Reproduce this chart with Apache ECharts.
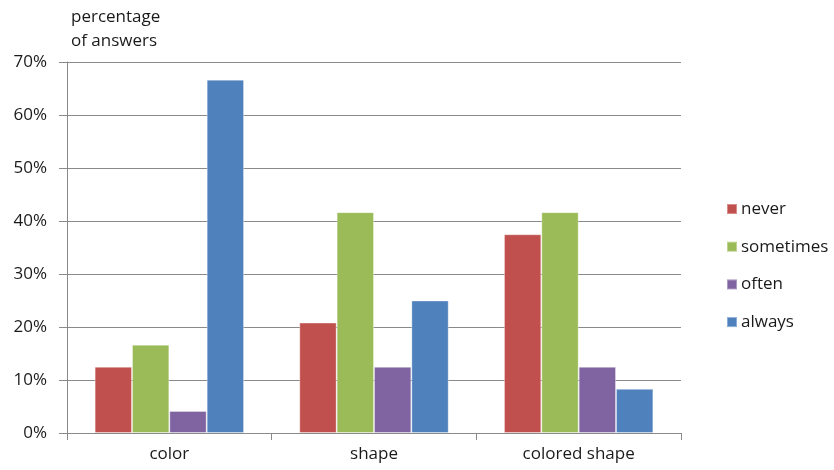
<!DOCTYPE html>
<html>
<head>
<meta charset="utf-8">
<script src="https://cdn.jsdelivr.net/npm/echarts@6/dist/echarts.min.js"></script>
<style>
html,body{margin:0;padding:0;background:#fff;}
#chart{width:834px;height:470px;}
</style>
</head>
<body>
<div id="chart"></div>
<script>
// Share of answers per stimulus type, in percent
const categories = ['color', 'shape', 'colored shape'];
const never = [12.5, 20.83, 37.5];
const sometimes = [16.67, 41.67, 41.67];
const often = [4.17, 12.5, 12.5];
const always = [66.67, 25, 8.33];
const seriesNames = ['never', 'sometimes', 'often', 'always'];
const seriesColors = ['#C0504D', '#9BBB59', '#8064A2', '#4F81BD'];
const yTicks = [0, 10, 20, 30, 40, 50, 60, 70];

const FONT = 'Open Sans';
const TEXT = '#1a1a1a';
const AXIS = '#8a8a8a';
const seriesData = [never, sometimes, often, always];

const chart = echarts.init(document.getElementById('chart'), null, {renderer: 'canvas'});
chart.setOption({
  animation: false,
  backgroundColor: '#fff',
  textStyle: {fontFamily: FONT},
  grid: {left: 67, right: 153, top: 62, bottom: 37, containLabel: false},
  title: {
    text: 'percentage\nof answers',
    left: 66, top: 0,
    textStyle: {fontFamily: FONT, fontSize: 17, fontWeight: 'normal', color: TEXT, lineHeight: 24}
  },
  legend: {
    orient: 'vertical',
    left: 721, top: 194,
    itemWidth: 10, itemHeight: 10,
    itemGap: 17.7,
    icon: 'rect',
    data: seriesNames,
    textStyle: {fontFamily: FONT, fontSize: 17, color: TEXT, lineHeight: 20, padding: [0, 0, 0, -1]}
  },
  xAxis: {
    type: 'category',
    data: categories,
    axisLine: {lineStyle: {color: AXIS, width: 1}},
    axisTick: {show: true, length: 7, lineStyle: {color: AXIS}},
    axisLabel: {fontFamily: FONT, fontSize: 17, color: TEXT, margin: 13}
  },
  yAxis: {
    type: 'value',
    min: yTicks[0], max: yTicks[yTicks.length - 1], interval: 10,
    axisLine: {show: true, lineStyle: {color: AXIS, width: 1}},
    axisTick: {show: true, length: 8, lineStyle: {color: AXIS}},
    axisLabel: {fontFamily: FONT, fontSize: 17, color: TEXT, margin: 20, formatter: v => v + '%'},
    splitLine: {show: true, lineStyle: {color: AXIS, width: 1}}
  },
  series: seriesNames.map((name, i) => ({
    name: name,
    type: 'bar',
    data: seriesData[i],
    barGap: '0%',
    barCategoryGap: '27%',
    itemStyle: {color: seriesColors[i], borderColor: 'rgba(255,255,255,0.35)', borderWidth: 1}
  }))
});
</script>
</body>
</html>
